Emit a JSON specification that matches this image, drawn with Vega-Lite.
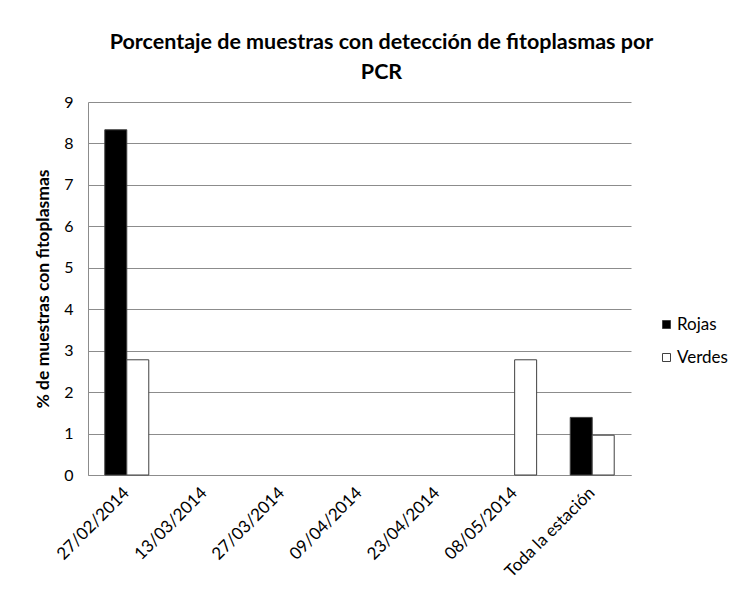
{
  "$schema": "https://vega.github.io/schema/vega-lite/v6.json",
  "width": 543,
  "height": 373,
  "autosize": "none",
  "padding": {"left": 88, "top": 102, "right": 109, "bottom": 115},
  "background": "white",
  "title": {
    "text": ["Porcentaje de muestras con detección de fitoplasmas por", "PCR"],
    "font": "Lato",
    "fontSize": 21.5,
    "fontWeight": "bold",
    "color": "#000000",
    "anchor": "middle",
    "dx": 22,
    "lineHeight": 30,
    "offset": 11
  },
  "data": {
    "values": [
      {"fecha": "27/02/2014", "tipo": "Rojas", "pct": 8.33},
      {"fecha": "27/02/2014", "tipo": "Verdes", "pct": 2.78},
      {"fecha": "13/03/2014", "tipo": "Rojas", "pct": 0},
      {"fecha": "13/03/2014", "tipo": "Verdes", "pct": 0},
      {"fecha": "27/03/2014", "tipo": "Rojas", "pct": 0},
      {"fecha": "27/03/2014", "tipo": "Verdes", "pct": 0},
      {"fecha": "09/04/2014", "tipo": "Rojas", "pct": 0},
      {"fecha": "09/04/2014", "tipo": "Verdes", "pct": 0},
      {"fecha": "23/04/2014", "tipo": "Rojas", "pct": 0},
      {"fecha": "23/04/2014", "tipo": "Verdes", "pct": 0},
      {"fecha": "08/05/2014", "tipo": "Rojas", "pct": 0},
      {"fecha": "08/05/2014", "tipo": "Verdes", "pct": 2.78},
      {"fecha": "Toda la estación", "tipo": "Rojas", "pct": 1.39},
      {"fecha": "Toda la estación", "tipo": "Verdes", "pct": 0.96}
    ]
  },
  "mark": {"type": "bar", "stroke": "#404040"},
  "encoding": {
    "x": {
      "field": "fecha",
      "type": "nominal",
      "sort": null,
      "scale": {"paddingInner": 0.433, "paddingOuter": 0.2165},
      "axis": {
        "title": null,
        "labelAngle": -45,
        "labelAlign": "right",
        "labelBaseline": "middle",
        "labelPadding": 15,
        "labelFont": "Lato",
        "labelFontSize": 17,
        "labelColor": "#000000",
        "ticks": false,
        "domainColor": "#8c8c8c",
        "domainWidth": 1,
        "grid": false
      }
    },
    "xOffset": {
      "field": "tipo",
      "type": "nominal",
      "scale": {"paddingInner": 0, "paddingOuter": 0}
    },
    "y": {
      "field": "pct",
      "type": "quantitative",
      "scale": {"domain": [0, 9], "nice": false},
      "axis": {
        "title": "% de muestras con fitoplasmas",
        "titleFont": "Lato",
        "titleFontSize": 17.5,
        "titleFontWeight": "bold",
        "titleColor": "#000000",
        "titlePadding": 11,
        "values": [0, 1, 2, 3, 4, 5, 6, 7, 8, 9],
        "labelFont": "Lato",
        "labelFontSize": 16,
        "labelColor": "#000000",
        "labelPadding": 15,
        "ticks": false,
        "domainColor": "#8c8c8c",
        "domainWidth": 1,
        "gridColor": "#8c8c8c",
        "gridWidth": 1
      }
    },
    "fill": {
      "field": "tipo",
      "type": "nominal",
      "scale": {"domain": ["Rojas", "Verdes"], "range": ["#000000", "#ffffff"]},
      "legend": {
        "title": null,
        "orient": "none",
        "legendX": 570,
        "legendY": 214,
        "symbolType": "square",
        "symbolSize": 64,
        "symbolStrokeColor": "#404040",
        "symbolStrokeWidth": 1,
        "labelFont": "Lato",
        "labelFontSize": 17,
        "labelColor": "#000000",
        "labelOffset": 2,
        "rowPadding": 15
      }
    },
    "strokeWidth": {
      "condition": {"test": "datum.pct > 0", "value": 1},
      "value": 0
    }
  },
  "config": {
    "view": {"stroke": null}
  }
}
